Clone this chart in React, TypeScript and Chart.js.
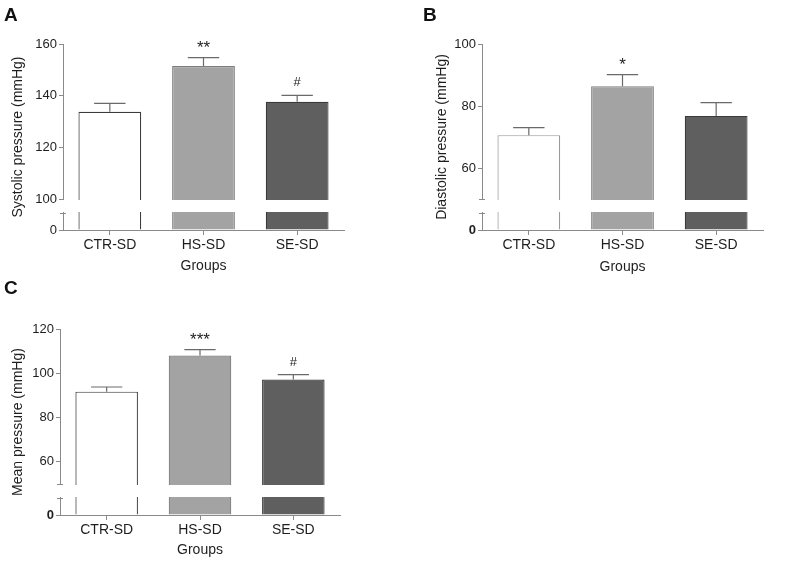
import React, { useEffect, useRef } from 'react';
import { Chart, registerables, LinearScale } from 'chart.js';

Chart.register(...registerables);

// ---------- data ----------
const groups = ['CTR-SD', 'HS-SD', 'SE-SD'];

const systolicMean = [133.8, 151.5, 137.6];
const systolicErr = [3.2, 3.2, 2.5];
const systolicMarks = ['', '**', '#'];
const systolicTicks = [0, 100, 120, 140, 160];

const diastolicMean = [70.6, 86.4, 76.8];
const diastolicErr = [2.4, 3.7, 4.3];
const diastolicMarks = ['', '*', ''];
const diastolicTicks = [0, 60, 80, 100];

const meanMean = [91.7, 108.0, 97.2];
const meanErr = [2.1, 2.7, 2.2];
const meanMarks = ['', '***', '#'];
const meanTicks = [0, 60, 80, 100, 120];

const FONT = "'Liberation Sans', Arial, sans-serif";
const AXIS = '#8a8a8a';
const TEXT = '#1e1e1e';

// ---------- broken linear scale ----------
class BrokenScale extends LinearScale {
  static id = 'broken';
  static defaults = {};
  getPixelForValue(value: number) {
    const o: any = this.options;
    const b = this.bottom;
    const t = this.top;
    const lowPx = o.lowPx;
    const gapPx = o.gapPx;
    const upPx = b - t - lowPx - gapPx;
    if (value <= o.breakLow) return b - ((value - this.min) / (o.breakLow - this.min)) * lowPx;
    if (value < o.breakHigh) return b - lowPx - ((value - o.breakLow) / (o.breakHigh - o.breakLow)) * gapPx;
    return b - lowPx - gapPx - ((value - o.breakHigh) / (this.max - o.breakHigh)) * upPx;
  }
  getValueForPixel(pixel: number) {
    const o: any = this.options;
    const b = this.bottom;
    const t = this.top;
    const lowPx = o.lowPx;
    const gapPx = o.gapPx;
    const upPx = b - t - lowPx - gapPx;
    const d = b - pixel;
    if (d <= lowPx) return this.min + (d / lowPx) * (o.breakLow - this.min);
    if (d <= lowPx + gapPx) return o.breakLow + ((d - lowPx) / gapPx) * (o.breakHigh - o.breakLow);
    return o.breakHigh + ((d - lowPx - gapPx) / upPx) * (this.max - o.breakHigh);
  }
}
Chart.register(BrokenScale as any);

type PanelCfg = {
  left: number; top: number; w: number; h: number;
  padTop: number; padRight: number; yWidth: number; xHeight: number;
  yTitlePad: number; xTitlePad: number;
  title: string; means: number[]; errs: number[]; marks: string[]; ticks: number[];
  min: number; max: number; breakLow: number; breakHigh: number; capUpper: boolean;
  boldZero: boolean; borders: string[];
};

const fills = ['#ffffff', '#a3a3a3', '#5f5f5f'];

function Panel({ cfg }: { cfg: PanelCfg }) {
  const ref = useRef<HTMLCanvasElement>(null);
  useEffect(() => {
    const plugin = {
      id: 'breakAndErrors',
      afterDatasetsDraw(chart: any) {
        const ctx = chart.ctx;
        const y = chart.scales.y;
        const area = chart.chartArea;
        const meta = chart.getDatasetMeta(0);
        const o: any = y.options;
        const yHi = y.getPixelForValue(o.breakHigh);
        const yLo = y.getPixelForValue(o.breakLow);
        ctx.save();
        // error bars and annotations
        meta.data.forEach((bar: any, i: number) => {
          const topPx = y.getPixelForValue(cfg.means[i] + cfg.errs[i]);
          const half = bar.width / 4;
          ctx.strokeStyle = '#6a6a6a';
          ctx.lineWidth = 1.2;
          ctx.beginPath();
          ctx.moveTo(bar.x, bar.y);
          ctx.lineTo(bar.x, topPx);
          ctx.moveTo(bar.x - half, topPx);
          ctx.lineTo(bar.x + half, topPx);
          ctx.stroke();
          if (cfg.marks[i]) {
            const isHash = cfg.marks[i] === '#';
            ctx.fillStyle = TEXT;
            ctx.font = (isHash ? '13px ' : '17px ') + FONT;
            ctx.textAlign = 'center';
            ctx.textBaseline = 'alphabetic';
            ctx.fillText(cfg.marks[i], bar.x, topPx - (isHash ? 9 : 5));
          }
        });
        // axis break gap
        ctx.fillStyle = '#ffffff';
        ctx.fillRect(area.left - 4, yHi + 1, area.right - area.left + 8, yLo - yHi - 2);
        ctx.strokeStyle = AXIS;
        ctx.lineWidth = 1;
        ctx.beginPath();
        ctx.moveTo(area.left - 3, Math.round(yLo) + 0.5);
        ctx.lineTo(area.left + 3, Math.round(yLo) + 0.5);
        if (cfg.capUpper) {
          ctx.moveTo(area.left - 3, Math.round(yHi) + 0.5);
          ctx.lineTo(area.left + 3, Math.round(yHi) + 0.5);
        }
        ctx.stroke();
        ctx.restore();
      },
    };

    const chart = new Chart(ref.current!, {
      type: 'bar',
      data: {
        labels: groups,
        datasets: [
          {
            data: cfg.means,
            backgroundColor: fills,
            borderColor: cfg.borders,
            borderWidth: 1.2,
            barPercentage: 0.67,
            categoryPercentage: 1,
          },
        ],
      },
      options: {
        responsive: false,
        animation: false,
        devicePixelRatio: 1,
        layout: { padding: { top: cfg.padTop, right: cfg.padRight, bottom: 0, left: 0 } },
        plugins: { legend: { display: false }, tooltip: { enabled: false }, title: { display: false } },
        scales: {
          x: {
            type: 'category',
            offset: true,
            afterFit: (s: any) => { s.height = cfg.xHeight; },
            grid: { display: true, drawOnChartArea: false, drawTicks: true, tickLength: 5, color: AXIS, offset: false },
            border: { color: AXIS, width: 1 },
            ticks: { color: TEXT, font: { family: FONT, size: 14 }, padding: 2, maxRotation: 0 },
            title: { display: true, text: 'Groups', color: TEXT, font: { family: FONT, size: 14 }, padding: { top: 2, bottom: cfg.xTitlePad } },
          },
          y: {
            type: 'broken' as any,
            min: cfg.min,
            max: cfg.max,
            breakLow: cfg.breakLow,
            breakHigh: cfg.breakHigh,
            lowPx: 17,
            gapPx: 14,
            afterFit: (s: any) => { s.width = cfg.yWidth; },
            afterBuildTicks: (s: any) => { s.ticks = cfg.ticks.map((v) => ({ value: v })); },
            grid: { display: true, drawOnChartArea: false, drawTicks: true, tickLength: 4, color: AXIS },
            border: { color: AXIS, width: 1 },
            ticks: {
              autoSkip: false,
              color: TEXT,
              padding: 2,
              callback: (v: any) => String(v),
              font: (c: any) => ({
                family: FONT,
                size: 13,
                weight: cfg.boldZero && c.tick && c.tick.value === 0 ? 'bold' : 'normal',
              }),
            },
            title: { display: true, text: cfg.title, color: TEXT, font: { family: FONT, size: 14 }, padding: { top: cfg.yTitlePad, bottom: 0 } },
          } as any,
        },
      },
      plugins: [plugin],
    });
    return () => chart.destroy();
  }, []);
  return (
    <canvas
      ref={ref}
      width={cfg.w}
      height={cfg.h}
      style={{ position: 'absolute', left: cfg.left, top: cfg.top, width: cfg.w, height: cfg.h }}
    />
  );
}

const panelA: PanelCfg = {
  left: 0, top: 0, w: 395, h: 280,
  padTop: 44, padRight: 51, yWidth: 63, xHeight: 50, yTitlePad: 10, xTitlePad: 5,
  title: 'Systolic pressure (mmHg)', means: systolicMean, errs: systolicErr, marks: systolicMarks, ticks: systolicTicks,
  min: 0, max: 160, breakLow: 10, breakHigh: 100, capUpper: false, boldZero: false,
  borders: ['#3c3c3c', '#7c7c7c', '#3a3a3a'],
};

const panelB: PanelCfg = {
  left: 424, top: 0, w: 363, h: 280,
  padTop: 44, padRight: 24, yWidth: 58, xHeight: 50, yTitlePad: 10, xTitlePad: 4,
  title: 'Diastolic pressure (mmHg)', means: diastolicMean, errs: diastolicErr, marks: diastolicMarks, ticks: diastolicTicks,
  min: 0, max: 100, breakLow: 10, breakHigh: 50, capUpper: true, boldZero: true,
  borders: ['#9a9a9a', '#7c7c7c', '#3a3a3a'],
};

const panelC: PanelCfg = {
  left: 0, top: 280, w: 395, h: 282,
  padTop: 49, padRight: 55, yWidth: 60, xHeight: 47, yTitlePad: 10, xTitlePad: 3,
  title: 'Mean pressure (mmHg)', means: meanMean, errs: meanErr, marks: meanMarks, ticks: meanTicks,
  min: 0, max: 120, breakLow: 10, breakHigh: 50, capUpper: true, boldZero: true,
  borders: ['#3c3c3c', '#7c7c7c', '#3a3a3a'],
};

const letterStyle = (left: number, top: number): React.CSSProperties => ({
  position: 'absolute', left, top, fontFamily: FONT, fontWeight: 'bold', fontSize: 19, lineHeight: '19px', color: '#111',
});

export default function App() {
  return (
    <div style={{ position: 'absolute', left: 0, top: 0, width: 787, height: 562, overflow: 'hidden', background: '#fff' }}>
      <Panel cfg={panelA} />
      <Panel cfg={panelB} />
      <Panel cfg={panelC} />
      <div style={letterStyle(4, 5)}>A</div>
      <div style={letterStyle(423, 5)}>B</div>
      <div style={letterStyle(4, 278)}>C</div>
    </div>
  );
}
